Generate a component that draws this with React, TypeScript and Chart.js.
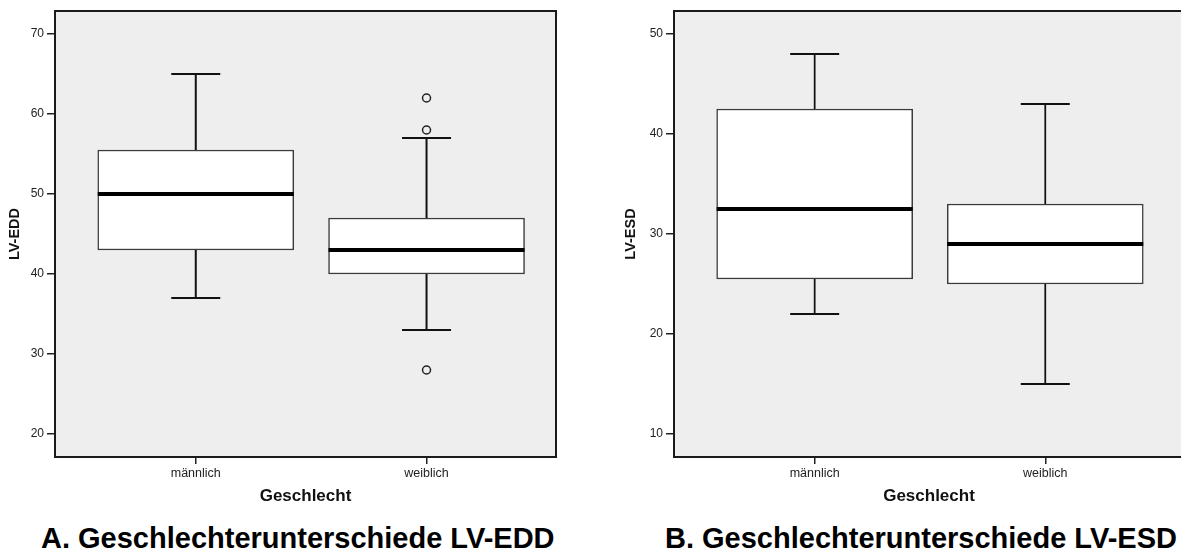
import React, { useEffect, useRef } from 'react';
import { Chart, registerables } from 'chart.js';

Chart.register(...registerables);

const FONT = '"Liberation Sans", Arial, Helvetica, sans-serif';

const groups = ['männlich', 'weiblich'];

// LV-EDD by sex
const eddLow = [37, 33];
const eddQ1 = [43, 40];
const eddMedian = [50, 43];
const eddQ3 = [55.5, 47];
const eddHigh = [65, 57];
const eddOutliers: number[][] = [[], [62, 58, 28]];
const eddTicks = [20, 30, 40, 50, 60, 70];

// LV-ESD by sex
const esdLow = [22, 15];
const esdQ1 = [25.5, 25];
const esdMedian = [32.5, 29];
const esdQ3 = [42.5, 33];
const esdHigh = [48, 43];
const esdOutliers: number[][] = [[], []];
const esdTicks = [10, 20, 30, 40, 50];

type Panel = {
  low: number[];
  q1: number[];
  median: number[];
  q3: number[];
  high: number[];
  outliers: number[][];
  ticks: number[];
  yTitle: string;
  yMin: number;
  yMax: number;
  xMin: number;
  xMax: number;
  padRight: number;
  yAxisWidth: number;
  xAxisHeight: number;
  whiskerWidth: number;
};

// grey plot background and a frame around the plotting area
const plotFrame = {
  id: 'plotFrame',
  beforeDraw(chart: any) {
    const { ctx, chartArea } = chart;
    ctx.save();
    ctx.fillStyle = '#eeeeee';
    ctx.fillRect(chartArea.left, chartArea.top, chartArea.width, chartArea.height);
    ctx.restore();
  },
  afterDraw(chart: any) {
    const { ctx, chartArea } = chart;
    ctx.save();
    ctx.strokeStyle = '#1a1a1a';
    ctx.lineWidth = 2;
    ctx.strokeRect(chartArea.left, chartArea.top, chartArea.width, chartArea.height);
    ctx.restore();
  },
};

function buildConfig(p: Panel): any {
  const boxes = {
    type: 'bar',
    data: groups.map((_, i) => ({ x: i, y: [p.q1[i], p.q3[i]] })),
    backgroundColor: '#ffffff',
    borderColor: '#3c3c3c',
    borderWidth: 1.5,
    borderSkipped: false,
    barThickness: 196,
    order: 3,
  };

  const whiskers = groups.flatMap((_, i) =>
    [
      [p.q3[i], p.high[i]],
      [p.q1[i], p.low[i]],
    ].map(([a, b]) => ({
      type: 'scatter',
      showLine: true,
      data: [
        { x: i, y: a },
        { x: i, y: b },
      ],
      borderColor: '#111111',
      borderWidth: p.whiskerWidth,
      pointRadius: 0,
      order: 2,
    }))
  );

  const caps = {
    type: 'scatter',
    data: groups.flatMap((_, i) => [
      { x: i, y: p.high[i] },
      { x: i, y: p.low[i] },
    ]),
    pointStyle: 'line',
    pointRadius: 24.5,
    pointBorderColor: '#111111',
    pointBorderWidth: 2,
    order: 1,
  };

  const medians = {
    type: 'scatter',
    data: groups.map((_, i) => ({ x: i, y: p.median[i] })),
    pointStyle: 'line',
    pointRadius: 98,
    pointBorderColor: '#000000',
    pointBorderWidth: 4,
    order: 0,
  };

  const outliers = {
    type: 'scatter',
    data: groups.flatMap((_, i) => p.outliers[i].map((v) => ({ x: i, y: v }))),
    pointStyle: 'circle',
    pointRadius: 4,
    pointBackgroundColor: 'rgba(0,0,0,0)',
    pointBorderColor: '#222222',
    pointBorderWidth: 1.5,
    order: 0,
  };

  return {
    type: 'bar',
    data: { datasets: [boxes, ...whiskers, caps, medians, outliers] },
    options: {
      responsive: false,
      animation: false,
      events: [],
      layout: { autoPadding: false, padding: { top: 11, right: p.padRight, bottom: 0, left: 0 } },
      plugins: {
        legend: { display: false },
        tooltip: { enabled: false },
      },
      scales: {
        x: {
          type: 'linear',
          min: p.xMin,
          max: p.xMax,
          offset: false,
          afterBuildTicks: (s: any) => {
            s.ticks = groups.map((_, i) => ({ value: i }));
          },
          afterFit: (s: any) => {
            s.height = p.xAxisHeight;
          },
          ticks: {
            callback: (v: any) => groups[v] ?? '',
            font: { family: FONT, size: 12.5 },
            color: '#222222',
            padding: 2,
            maxRotation: 0,
            autoSkip: false,
          },
          grid: {
            display: true,
            drawOnChartArea: false,
            drawTicks: true,
            tickLength: 7,
            color: '#222222',
            lineWidth: 1.5,
            offset: false,
          },
          border: { display: false },
          title: {
            display: true,
            text: 'Geschlecht',
            font: { family: FONT, size: 17, weight: 'bold' },
            color: '#111111',
            padding: { top: 0, bottom: 8 },
          },
        },
        y: {
          type: 'linear',
          min: p.yMin,
          max: p.yMax,
          afterBuildTicks: (s: any) => {
            s.ticks = p.ticks.map((v) => ({ value: v }));
          },
          afterFit: (s: any) => {
            s.width = p.yAxisWidth;
          },
          ticks: {
            font: { family: FONT, size: 12 },
            color: '#222222',
            padding: 3,
          },
          grid: {
            display: true,
            drawOnChartArea: false,
            drawTicks: true,
            tickLength: 8,
            color: '#222222',
            lineWidth: 1.5,
          },
          border: { display: false },
          title: {
            display: true,
            text: p.yTitle,
            font: { family: FONT, size: 14.5, weight: 'bold' },
            color: '#111111',
            padding: { top: 6, bottom: 0 },
          },
        },
      },
    },
    plugins: [plotFrame],
  };
}

function BoxChart({ panel, width, height, left }: { panel: Panel; width: number; height: number; left: number }) {
  const ref = useRef<HTMLCanvasElement | null>(null);
  useEffect(() => {
    if (!ref.current) return;
    const chart = new Chart(ref.current, buildConfig(panel));
    return () => chart.destroy();
  }, [panel]);
  return (
    <canvas
      ref={ref}
      width={width}
      height={height}
      style={{ position: 'absolute', left, top: 0, width, height }}
    />
  );
}

const eddPanel: Panel = {
  low: eddLow,
  q1: eddQ1,
  median: eddMedian,
  q3: eddQ3,
  high: eddHigh,
  outliers: eddOutliers,
  ticks: eddTicks,
  yTitle: 'LV-EDD',
  yMin: 17.125,
  yMax: 72.875,
  xMin: -0.61,
  xMax: 1.561,
  padRight: 44,
  yAxisWidth: 55,
  xAxisHeight: 58,
  whiskerWidth: 2,
};

const esdPanel: Panel = {
  low: esdLow,
  q1: esdQ1,
  median: esdMedian,
  q3: esdQ3,
  high: esdHigh,
  outliers: esdOutliers,
  ticks: esdTicks,
  yTitle: 'LV-ESD',
  yMin: 7.7,
  yMax: 52.3,
  xMin: -0.61,
  xMax: 1.6016,
  padRight: 72,
  yAxisWidth: 58,
  xAxisHeight: 58,
  whiskerWidth: 1.75,
};

const captionStyle: React.CSSProperties = {
  position: 'absolute',
  top: 523.5,
  fontFamily: FONT,
  fontWeight: 'bold',
  fontSize: 29,
  lineHeight: '29px',
  color: '#000000',
  whiteSpace: 'nowrap',
  margin: 0,
};

export default function App() {
  return (
    <div
      style={{
        position: 'fixed',
        left: 0,
        top: 0,
        width: 1181,
        height: 553,
        overflow: 'hidden',
        background: '#ffffff',
      }}
    >
      <BoxChart panel={eddPanel} width={600} height={515} left={0} />
      <BoxChart panel={esdPanel} width={640} height={515} left={616} />
      <div style={{ ...captionStyle, left: 41 }}>A. Geschlechterunterschiede LV-EDD</div>
      <div style={{ ...captionStyle, left: 665 }}>B. Geschlechterunterschiede LV-ESD</div>
    </div>
  );
}
